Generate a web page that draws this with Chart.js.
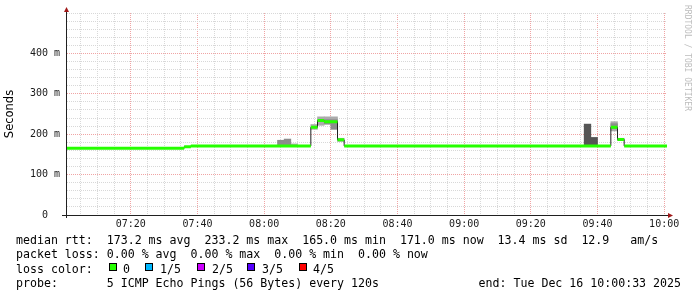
<!DOCTYPE html>
<html>
<head>
<meta charset="utf-8">
<script src="https://cdn.jsdelivr.net/npm/chart.js@4.4.1/dist/chart.umd.min.js"></script>
<style>
  html, body { margin: 0; padding: 0; background: #fff; }
</style>
</head>
<body>
<canvas id="chart" width="697" height="297"></canvas>
<script>
// x values are minutes after 07:00, y values are milliseconds
const viewStart = 0.85;
const viewEnd = 180.85;

// median rtt, one value per step, holding until the next step start
const medianStart = [0, 36, 38, 74, 76, 78, 80, 82, 84, 164, 166, 168];
const medianMs = [165, 169, 171, 217, 234, 231, 231, 186, 171, 217, 187, 171];

// smoke (spread of the 5 pings), each block is 2 minutes wide
const lightSmokeStart = [68, 74, 76, 78, 80, 82, 164, 166];
const lightSmokeLow = [171, 212, 222, 224, 222, 182, 208, 184];
const lightSmokeHigh = [176, 224, 243, 243, 243, 190, 231, 190];

const midSmokeStart = [64, 66, 78, 80, 164];
const midSmokeLow = [171, 171, 226, 212, 214];
const midSmokeHigh = [185, 188, 236, 236, 226];

const darkSmokeStart = [156, 158];
const darkSmokeLow = [171, 171];
const darkSmokeHigh = [225, 192];

const lossLabels = ["0", "1/5", "2/5", "3/5", "4/5"];
const lossColors = ["#26ff00", "#00b8ff", "#cc00ff", "#5500ff", "#ff0000"];

const legendLines = [
  "median rtt:  173.2 ms avg  233.2 ms max  165.0 ms min  171.0 ms now  13.4 ms sd  12.9   am/s",
  "packet loss: 0.00 % avg  0.00 % max  0.00 % min  0.00 % now",
  "loss color:",
  "probe:       5 ICMP Echo Pings (56 Bytes) every 120s",
];
const endLabel = "end: Tue Dec 16 10:00:33 2025";

const MONO = '"DejaVu Sans Mono", monospace';
const MAJOR_GRID = "#f0a4a4";
const MINOR_GRID = "#d8d8d8";

// build line points: green band pieces with gaps, black stepped line
const bandPoints = [];
const stepPoints = [];
medianStart.forEach((t, i) => {
  const t1 = i + 1 < medianStart.length ? medianStart[i + 1] : viewEnd;
  bandPoints.push({ x: t, y: medianMs[i] }, { x: t1, y: medianMs[i] }, { x: t1, y: null });
  stepPoints.push({ x: t, y: medianMs[i] });
});
stepPoints.push({ x: viewEnd, y: medianMs[medianMs.length - 1] });

function smokeBars(starts, lows, highs) {
  return starts.map((t, i) => ({ x: t + 1, y: [lows[i], highs[i]] }));
}

function fmtTime(v) {
  const h = 7 + Math.floor(v / 60);
  const m = v % 60;
  return String(h).padStart(2, "0") + ":" + String(m).padStart(2, "0");
}

function isMajorX(v) {
  return Math.abs(v % 20) < 0.001;
}

function isMajorY(v) {
  return Math.abs(v % 100) < 0.001 && v > 0 && v < 500;
}

const rrdDecor = {
  id: "rrdDecor",
  afterDraw(chart) {
    const ctx = chart.ctx;
    const area = chart.chartArea;
    ctx.save();

    // axes
    ctx.strokeStyle = "#202020";
    ctx.lineWidth = 1;
    ctx.beginPath();
    ctx.moveTo(62, area.bottom + 0.5);
    ctx.lineTo(area.right + 1, area.bottom + 0.5);
    ctx.moveTo(area.left - 0.5, area.bottom + 3);
    ctx.lineTo(area.left - 0.5, area.top - 1);
    ctx.stroke();

    // arrows
    ctx.fillStyle = "#a01818";
    ctx.beginPath();
    ctx.moveTo(area.left - 0.5, area.top - 6);
    ctx.lineTo(area.left - 3, area.top - 1);
    ctx.lineTo(area.left + 2, area.top - 1);
    ctx.closePath();
    ctx.fill();
    ctx.beginPath();
    ctx.moveTo(area.right + 6, area.bottom + 0.5);
    ctx.lineTo(area.right + 1, area.bottom - 2);
    ctx.lineTo(area.right + 1, area.bottom + 3);
    ctx.closePath();
    ctx.fill();

    // legend text
    ctx.fillStyle = "#000";
    ctx.font = "11.6px " + MONO;
    ctx.textBaseline = "middle";
    ctx.textAlign = "left";
    const rowY = [240.7, 255.2, 269.5, 284];
    legendLines.forEach((line, i) => ctx.fillText(line, 16, rowY[i]));
    ctx.textAlign = "right";
    ctx.fillText(endLabel, 681, rowY[3]);

    // loss colour boxes
    ctx.textAlign = "left";
    const boxX = [109, 145, 197, 247, 299];
    const labelX = [123, 160, 212, 262, 313];
    lossLabels.forEach((lab, i) => {
      ctx.fillStyle = lossColors[i];
      ctx.fillRect(boxX[i], 263, 8, 8);
      ctx.strokeStyle = "#000";
      ctx.strokeRect(boxX[i] + 0.5, 263.5, 7, 7);
      ctx.fillStyle = "#000";
      ctx.fillText(lab, labelX[i], rowY[2]);
    });

    // watermark
    ctx.translate(687, 5);
    ctx.rotate(Math.PI / 2);
    ctx.fillStyle = "#bdbdbd";
    ctx.font = "8px " + MONO;
    ctx.textAlign = "left";
    ctx.textBaseline = "middle";
    ctx.fillText("RRDTOOL / TOBI OETIKER", 0, 0);
    ctx.restore();
  },
};

new Chart(document.getElementById("chart"), {
  type: "line",
  data: {
    datasets: [
      {
        type: "line",
        data: bandPoints,
        borderColor: "#26ff00",
        borderWidth: 3,
        pointRadius: 0,
        spanGaps: false,
        order: 0,
      },
      {
        type: "line",
        data: stepPoints,
        borderColor: "#202020",
        borderWidth: 1,
        pointRadius: 0,
        stepped: "before",
        order: 1,
      },
      {
        type: "bar",
        data: smokeBars(darkSmokeStart, darkSmokeLow, darkSmokeHigh),
        backgroundColor: "#555555",
        grouped: false,
        barPercentage: 1,
        categoryPercentage: 1,
        order: 2,
      },
      {
        type: "bar",
        data: smokeBars(midSmokeStart, midSmokeLow, midSmokeHigh),
        backgroundColor: "#8c8c8c",
        grouped: false,
        barPercentage: 1,
        categoryPercentage: 1,
        order: 3,
      },
      {
        type: "bar",
        data: smokeBars(lightSmokeStart, lightSmokeLow, lightSmokeHigh),
        backgroundColor: "#ababab",
        grouped: false,
        barPercentage: 1,
        categoryPercentage: 1,
        order: 4,
      },
    ],
  },
  options: {
    responsive: false,
    animation: false,
    devicePixelRatio: 1,
    layout: { padding: { left: 0, right: 30, top: 12.5, bottom: 0 } },
    plugins: { legend: { display: false }, tooltip: { enabled: false } },
    scales: {
      x: {
        type: "linear",
        min: viewStart,
        max: viewEnd,
        offset: false,
        afterFit(scale) { scale.height = 82; },
        afterBuildTicks(scale) {
          const ticks = [];
          for (let v = 5; v <= 180; v += 5) ticks.push({ value: v });
          scale.ticks = ticks;
        },
        border: { display: false, dash: [1, 1] },
        grid: {
          offset: false,
          drawTicks: false,
          lineWidth: 1,
          color: (c) => (c.tick && isMajorX(c.tick.value) ? MAJOR_GRID : MINOR_GRID),
        },
        ticks: {
          autoSkip: false,
          maxRotation: 0,
          padding: 3,
          color: "#1a1a1a",
          font: { family: MONO, size: 10 },
          callback: (v) => (isMajorX(v) ? fmtTime(v) : ""),
        },
      },
      y: {
        min: 0,
        max: 500,
        afterFit(scale) { scale.width = 67; },
        border: { display: false, dash: [1, 1] },
        grid: {
          drawTicks: false,
          lineWidth: 1,
          color: (c) => (c.tick && isMajorY(c.tick.value) ? MAJOR_GRID : MINOR_GRID),
        },
        ticks: {
          stepSize: 20,
          autoSkip: false,
          padding: 7,
          color: "#1a1a1a",
          font: { family: MONO, size: 10 },
          callback: (v) => (v === 0 ? "0  " : isMajorY(v) ? v + " m" : ""),
        },
        title: {
          display: true,
          text: "Seconds",
          color: "#000",
          font: { family: '"DejaVu Sans", sans-serif', size: 11.5 },
          padding: { top: 3, bottom: 0 },
        },
      },
    },
  },
  plugins: [rrdDecor],
});
</script>
</body>
</html>
